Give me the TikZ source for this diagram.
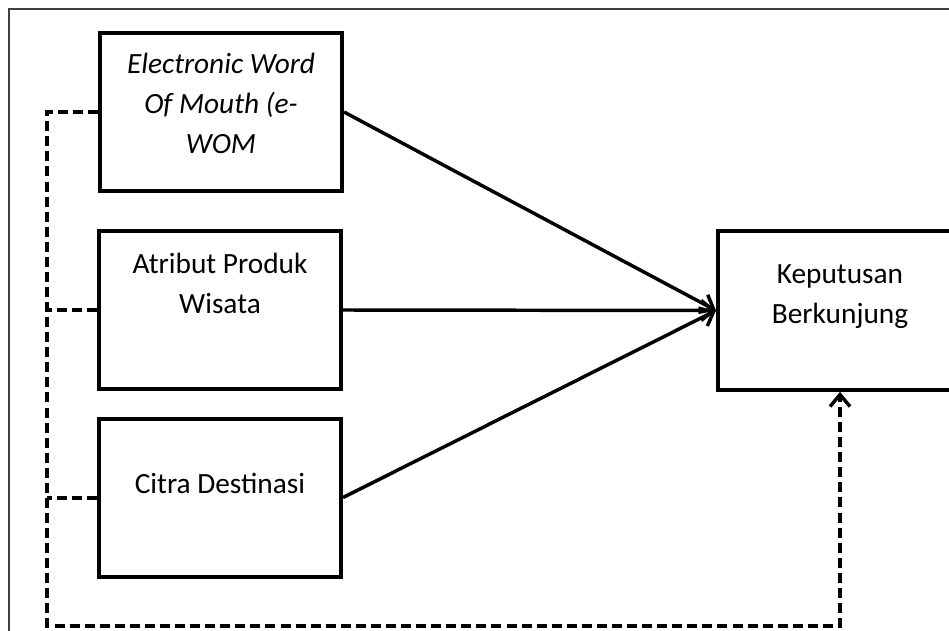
\documentclass[tikz,border=0pt]{standalone}
\usepackage{fontspec}
\setmainfont{Carlito}
\usetikzlibrary{positioning,arrows.meta}

\tikzset{
  var/.style={draw,line width=3pt,minimum width=181.5pt,minimum height=118.5pt,inner sep=0pt},
  lbl/.style={align=center,font=\fontsize{22}{30}\selectfont},
  effect/.style={line width=2.6pt,-{Straight Barb[length=9pt,width=15pt,line width=2.6pt]}},
  joint/.style={line width=3pt,dash pattern=on 7.5pt off 3.8pt},
  frame/.style={line width=1pt,draw=black!75}
}

\begin{document}
\begin{tikzpicture}[x=0.75pt,y=-0.75pt]
    \useasboundingbox (0,0) rectangle (949,631);
    \draw[frame] (9,640) |- (960,9);
    % variables
    \node[var] (ewom) at (221,112) {};
    \node[var] (atr) at (220,310) {};
    \node[var] (cit) at (220,497.5) {};
    \node[var,minimum width=183pt,minimum height=119pt] (kep) at (840,310.5) {};
    \node[lbl] (ewomtxt) at (221,103) {\itshape Electronic Word\\\itshape Of Mouth (e-\\\itshape WOM};
    \node[lbl] (atrtxt) at (220,283) {Atribut Produk\\Wisata};
    \node[lbl] (cittxt) at (220,483) {Citra Destinasi};
    \node[lbl] (keptxt) at (840,297) {Keputusan\\Berkunjung};
    % partial effects
    \draw[effect] (ewom.east) -- (kep.west);
    \draw[effect] (atr.east) -- (kep.west);
    \draw[effect] (cit.east) -- (kep.west);
    % simultaneous effect
    \coordinate (bus) at (47,626);
    \draw[joint,-{Straight Barb[length=9pt,width=15pt,line width=2.6pt]}] (ewom.west) -| (bus) -| (kep.south);
    \draw[joint] (atr.west) -- (atr.west -| bus);
    \draw[joint] (cit.west) -- (cit.west -| bus);
\end{tikzpicture}
\end{document}
